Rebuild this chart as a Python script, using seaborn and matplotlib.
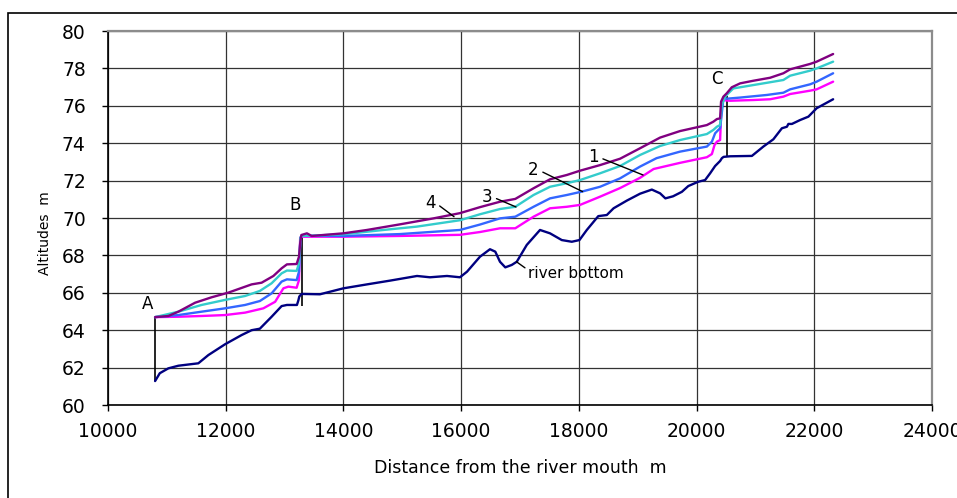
import matplotlib
matplotlib.use("Agg")
import matplotlib.pyplot as plt
import seaborn as sns
import pandas as pd
from matplotlib.patches import Rectangle

# ---------------- data ----------------
bottom_x = [10800, 10880, 11025, 11195, 11535, 11705, 11990, 12270, 12440, 12580, 12780, 12950,
            13040, 13210, 13235, 13250, 13290, 13600, 14000, 14400, 14790, 15250, 15470, 15760,
            15980, 16100, 16320, 16490, 16580, 16660, 16750, 16860, 16945, 17115, 17340, 17510,
            17710, 17880, 18010, 18135, 18330, 18475, 18590, 18815, 19040, 19240, 19380, 19470,
            19600, 19750, 19860, 20030, 20145, 20230, 20315, 20400, 20430, 20460, 20570, 20940,
            21135, 21305, 21450, 21535, 21560, 21620, 21760, 21900, 22040, 22320]
bottom_y = [61.28, 61.7, 61.96, 62.1, 62.23, 62.67, 63.25, 63.74, 64.0, 64.08, 64.72, 65.29,
            65.35, 65.35, 65.6, 65.8, 65.94, 65.92, 66.24, 66.45, 66.65, 66.9, 66.83, 66.9,
            66.83, 67.13, 67.93, 68.33, 68.2, 67.66, 67.36, 67.49, 67.66, 68.56, 69.36, 69.18,
            68.82, 68.73, 68.82, 69.36, 70.1, 70.16, 70.52, 70.93, 71.3, 71.52, 71.32, 71.05,
            71.16, 71.4, 71.71, 71.94, 72.03, 72.39, 72.78, 73.05, 73.2, 73.27, 73.3, 73.32,
            73.82, 74.21, 74.8, 74.88, 75.03, 75.03, 75.24, 75.42, 75.87, 76.35]

line1_x = [10800, 11195, 11590, 11990, 12330, 12640, 12840, 12980, 13065, 13205, 13245, 13265,
           13300, 14000, 14960, 15980, 16320, 16660, 16920, 17230, 17510, 17795, 18020, 18360,
           18700, 19040, 19270, 19720, 20175, 20260, 20305, 20345, 20400, 20425, 20450, 20570,
           20970, 21250, 21475, 21590, 21930, 22040, 22320]
line1_y = [64.7, 64.72, 64.76, 64.81, 64.94, 65.17, 65.52, 66.24, 66.33, 66.27, 66.68, 68.95,
           69.0, 69.0, 69.04, 69.1, 69.25, 69.45, 69.45, 70.07, 70.52, 70.6, 70.7, 71.14,
           71.6, 72.15, 72.62, 72.95, 73.25, 73.42, 73.9, 74.08, 74.17, 76.2, 76.3, 76.27,
           76.31, 76.35, 76.49, 76.63, 76.81, 76.88, 77.29]

line2_x = [10800, 11195, 11590, 11990, 12330, 12580, 12780, 12950, 13040, 13205, 13245, 13270,
           13300, 14000, 14960, 15980, 16320, 16660, 16920, 17230, 17510, 17795, 18050, 18360,
           18700, 19040, 19320, 19720, 20175, 20260, 20315, 20370, 20400, 20428, 20456, 20513,
           20740, 21195, 21475, 21590, 21930, 22040, 22320]
line2_y = [64.7, 64.81, 64.99, 65.17, 65.35, 65.56, 65.97, 66.6, 66.72, 66.68, 67.13, 68.95,
           69.05, 69.04, 69.14, 69.36, 69.65, 69.98, 70.07, 70.6, 71.05, 71.23, 71.41, 71.67,
           72.12, 72.75, 73.2, 73.55, 73.82, 74.08, 74.53, 74.71, 74.8, 75.6, 76.4, 76.38,
           76.44, 76.58, 76.7, 76.88, 77.15, 77.29, 77.74]

line3_x = [10800, 11195, 11590, 11990, 12330, 12580, 12780, 12950, 13040, 13205, 13245, 13270,
           13300, 13430, 14000, 14680, 15250, 15980, 16320, 16660, 16920, 17230, 17510, 17795,
           18020, 18360, 18700, 19040, 19380, 19720, 20175, 20285, 20345, 20400, 20428, 20485,
           20540, 20625, 20965, 21250, 21475, 21590, 21930, 22040, 22320]
line3_y = [64.7, 64.99, 65.35, 65.62, 65.83, 66.1, 66.51, 67.04, 67.19, 67.17, 67.58, 68.95,
           69.05, 69.05, 69.13, 69.36, 69.54, 69.88, 70.2, 70.48, 70.6, 71.23, 71.67, 71.86,
           72.03, 72.39, 72.78, 73.37, 73.85, 74.17, 74.49, 74.71, 74.88, 74.97, 76.04, 76.49,
           76.67, 76.93, 77.11, 77.26, 77.38, 77.61, 77.88, 78.0, 78.36]

line4_x = [10800, 11025, 11195, 11480, 11760, 12045, 12440, 12610, 12810, 12950, 13040, 13205,
           13245, 13268, 13285, 13380, 13460, 14000, 14400, 14960, 15530, 15980, 16320, 16660,
           16920, 17230, 17510, 17795, 18020, 18360, 18700, 19040, 19380, 19720, 20175, 20285,
           20345, 20400, 20416, 20456, 20513, 20598, 20740, 20965, 21250, 21475, 21590, 21930,
           22040, 22320]
line4_y = [64.7, 64.76, 64.99, 65.47, 65.76, 66.01, 66.45, 66.54, 66.9, 67.31, 67.52, 67.54,
           67.93, 68.73, 69.09, 69.18, 69.04, 69.18, 69.36, 69.66, 69.98, 70.26, 70.58, 70.87,
           71.02, 71.59, 72.07, 72.3, 72.53, 72.83, 73.17, 73.73, 74.3, 74.65, 74.97, 75.15,
           75.29, 75.33, 76.22, 76.49, 76.67, 76.99, 77.2, 77.34, 77.5, 77.74, 77.95, 78.24,
           78.36, 78.77]

series_names = ["river bottom", "1", "2", "3", "4"]
series_colors = ["#000080", "#FF00FF", "#3366FF", "#33CCCC", "#800080"]

# vertical connectors at sections A, B, C
conn_x = [10800, 13300, 20520]
conn_lo = [61.28, 65.3, 73.25]
conn_hi = [64.7, 69.1, 76.5]

section_labels = ["A", "B", "C"]
section_x = [10676, 13177, 20352]
section_y = [65.4, 70.7, 77.42]

# curve labels: text position and pointed location
curve_labels = ["4", "3", "2", "1", "river bottom"]
curve_text_x = [15471, 16433, 17221, 18241, 17140]
curve_text_y = [70.82, 71.14, 72.57, 73.26, 67.05]
curve_pt_x = [15879, 16932, 18064, 19090, 16940]
curve_pt_y = [70.07, 70.59, 71.41, 72.30, 67.66]

x_ticks = [10000, 12000, 14000, 16000, 18000, 20000, 22000, 24000]
y_ticks = [60, 62, 64, 66, 68, 70, 72, 74, 76, 78, 80]

# ---------------- build frame ----------------
xs = [bottom_x, line1_x, line2_x, line3_x, line4_x]
ys = [bottom_y, line1_y, line2_y, line3_y, line4_y]
frames = []
for name, x, y in zip(series_names, xs, ys):
    frames.append(pd.DataFrame({"distance": x, "altitude": y, "series": name}))
df = pd.concat(frames, ignore_index=True)

# ---------------- plot ----------------
sns.set_style("white")
plt.rcParams["font.family"] = ["DejaVu Sans"]
plt.rcParams["text.color"] = "black"
plt.rcParams["axes.labelcolor"] = "black"
plt.rcParams["xtick.color"] = "black"
plt.rcParams["ytick.color"] = "black"

W, H = 957, 498
fig = plt.figure(figsize=(W / 100, H / 100), dpi=100)
ax = fig.add_axes([108 / W, 1 - 405 / H, (932 - 108) / W, (405 - 31) / H])

ax.grid(True, color="#333333", lw=0.9)
ax.set_axisbelow(True)

ax.vlines(conn_x, conn_lo, conn_hi, colors="black", lw=1.2, zorder=2)

sns.lineplot(data=df, x="distance", y="altitude", hue="series",
             hue_order=series_names, palette=dict(zip(series_names, series_colors)),
             estimator=None, sort=False, legend=False, lw=1.7, ax=ax, zorder=3)

for lab, x, y in zip(section_labels, section_x, section_y):
    ax.text(x, y, lab, ha="center", va="center", fontsize=12, color="black")

for lab, tx, ty, px, py in zip(curve_labels, curve_text_x, curve_text_y, curve_pt_x, curve_pt_y):
    if lab == "river bottom":
        ax.annotate(lab, xy=(px, py), xytext=(tx, ty), ha="left", va="center", fontsize=11,
                    color="black",
                    arrowprops=dict(arrowstyle="-", color="black", lw=1.0,
                                    relpos=(0.0, 0.7), shrinkA=0, shrinkB=0))
    else:
        ax.annotate(lab, xy=(px, py), xytext=(tx, ty), ha="center", va="center", fontsize=12,
                    color="black",
                    arrowprops=dict(arrowstyle="-", color="black", lw=1.0,
                                    relpos=(1.0, 0.5), shrinkA=1, shrinkB=0))

ax.set_xlim(10000, 24000)
ax.set_ylim(60, 80)
ax.set_xticks(x_ticks)
ax.set_yticks(y_ticks)
ax.set_xticklabels([str(t) for t in x_ticks])
ax.set_yticklabels([str(t) for t in y_ticks])
ax.tick_params(axis="both", direction="out", length=4, width=1, color="black",
               labelcolor="black", labelsize=13.5, bottom=True, left=True)
ax.tick_params(axis="y", pad=12)
ax.tick_params(axis="x", pad=8)

for s in ["left", "bottom"]:
    ax.spines[s].set_color("black")
    ax.spines[s].set_linewidth(1.2)
for s in ["top", "right"]:
    ax.spines[s].set_color("#8c8c8c")
    ax.spines[s].set_linewidth(1.6)

ax.set_xlabel("Distance from the river mouth  m", fontsize=12.5, color="black")
ax.set_ylabel("Altitudes  m", fontsize=10, color="black")
ax.xaxis.set_label_coords(0.5, (405 - 459) / 374)
ax.yaxis.set_label_coords((52 - 108) / 824, (405 - 233) / 374)

fig.add_artist(Rectangle((8 / W, -0.5), 2.0, 0.5 + 1 - 13 / H, transform=fig.transFigure,
                         fill=False, ec="black", lw=1.2, clip_on=False))

fig.savefig("out.png", dpi=100)
